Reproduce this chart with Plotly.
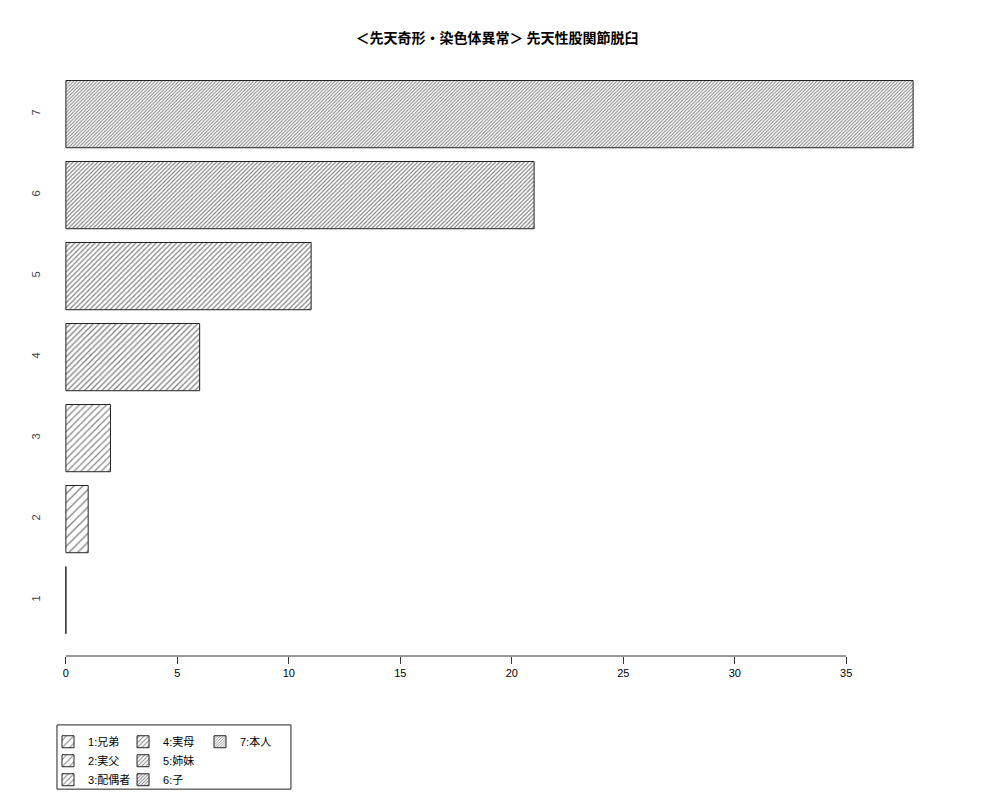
import plotly.graph_objects as go

# data
categories = ["1", "2", "3", "4", "5", "6", "7"]
values = [0, 1, 2, 6, 11, 21, 38]
legend_names = ["1:兄弟", "2:実父", "3:配偶者", "4:実母", "5:姉妹", "6:子", "7:本人"]
x_ticks = [0, 5, 10, 15, 20, 25, 30, 35]

# hatch spacing gets tighter with each bar (like R density)
hatch_sizes = [6.5, 6.2, 4.8, 4.1, 3.6, 2.9, 2.4]
hatch_solidity = [0.2, 0.2, 0.25, 0.3, 0.33, 0.38, 0.42]
legend_groups = ["legend", "legend", "legend", "legend2", "legend2", "legend2", "legend3"]

fig = go.Figure()
for i, cat in enumerate(categories):
    fig.add_trace(go.Bar(
        y=[cat],
        x=[values[i]],
        orientation='h',
        name=legend_names[i],
        legend=legend_groups[i],
        marker=dict(
            color='white',
            line=dict(color='#222222', width=1),
            pattern=dict(shape='/', size=hatch_sizes[i], solidity=hatch_solidity[i],
                         fgcolor='black', bgcolor='white'),
        ),
    ))

# page body adds an 8px offset, margins compensate for it
fig.update_layout(
    width=1000, height=800,
    paper_bgcolor='white', plot_bgcolor='white',
    margin=dict(l=24, r=61, t=64, b=152),
    barmode='overlay',
    bargap=0.17,
    font=dict(family="Liberation Sans, Noto Sans CJK JP", size=11, color='black'),
    title=dict(text='<b>＜先天奇形・染色体異常＞ 先天性股関節脱臼</b>',
               x=0.489, xanchor='center', y=0.963, yanchor='middle',
               font=dict(family="Noto Sans CJK JP", size=14, color='black')),
)

legend_style = dict(orientation='v', yanchor='top', xanchor='left',
                    font=dict(family="Liberation Sans, Noto Sans CJK JP", size=11),
                    bgcolor='rgba(0,0,0,0)', borderwidth=0, itemwidth=30,
                    tracegroupgap=0)
fig.update_layout(
    showlegend=True,
    legend=dict(x=0.0175, y=-0.122, **legend_style),
    legend2=dict(x=0.0995, y=-0.122, **legend_style),
    legend3=dict(x=0.1836, y=-0.122, **legend_style),
)

# legend frame
fig.add_shape(type='rect', xref='paper', yref='paper',
              x0=0.0273, x1=0.283, y0=-0.228, y1=-0.118,
              line=dict(color='#222222', width=1), fillcolor='rgba(0,0,0,0)')

fig.update_xaxes(range=[-1.52, 39.52], tickvals=x_ticks, ticks='outside', ticklen=7,
                 tickcolor='#333333', showgrid=False, zeroline=False, showline=False,
                 tickfont=dict(size=11))
# R style axis line only spans the tick range
fig.add_shape(type='line', xref='x', yref='paper', x0=x_ticks[0], x1=x_ticks[-1],
              y0=0, y1=0, line=dict(color='#333333', width=1))

fig.update_yaxes(type='category', categoryorder='array', categoryarray=categories,
                 range=[-0.69, 6.52], showgrid=False, zeroline=False, showline=False,
                 ticks='', tickangle=-90, ticklabelposition='inside',
                 ticklabelstandoff=-8, tickfont=dict(size=11))

fig.write_html("out.html")
